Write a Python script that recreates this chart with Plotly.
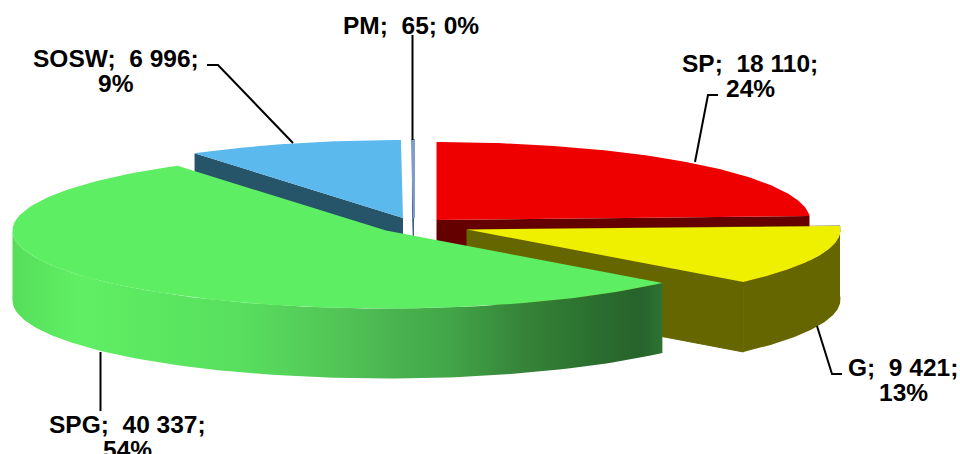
import numpy as np
import plotly.graph_objects as go

categories = ["SP", "G", "SPG", "SOSW", "PM"]
values = [18110, 9421, 40337, 6996, 65]
percents = ["24%", "13%", "54%", "9%", "0%"]

top_colors = ["#EE0000", "#EFEF00", "#5EEE63", "#5CB9EE", "#7F9CCB"]
side_colors = ["#640000", "#666600", "#256029", "#265468", "#3F5F85"]
centers = {"SP": (436.5, 220), "G": (467, 229.5), "SPG": (386, 230.5), "SOSW": (403, 218), "PM": (414, 218)}
RX, RY, DEPTH = 373.5, 78, 70

total = sum(values)
edges = np.concatenate([[0], np.cumsum(values) / total * 360])
spans = {c: (edges[i], edges[i + 1]) for i, c in enumerate(categories)}


def arc(cat, a0, a1, dy=0, n=120):
    cx, cy = centers[cat]
    t = np.radians(np.linspace(a0, a1, n))
    return cx + RX * np.sin(t), cy - RY * np.cos(t) + dy


def poly(xs, ys, color, edge=0, **kw):
    fig.add_trace(go.Scatter(x=xs, y=ys, mode="lines", fill="toself", fillcolor=color,
                             line=dict(width=edge, color=color), hoverinfo="skip",
                             showlegend=False, **kw))


def cut_face(cat, angle, color):
    cx, cy = centers[cat]
    x, y = arc(cat, angle, angle, n=1)
    poly([cx, x[0], x[0], cx, cx], [cy, y[0], y[0] + DEPTH, cy + DEPTH, cy], color)


def top(cat, color, edge=0):
    a0, a1 = spans[cat]
    cx, cy = centers[cat]
    x, y = arc(cat, a0, a1)
    poly(np.r_[cx, x, cx], np.r_[cy, y, cy], color, edge=edge)


def outer_side(cat, a0, a1, color, **kw):
    x, y = arc(cat, a0, a1)
    xb, yb = arc(cat, a1, a0, DEPTH)
    poly(np.r_[x, xb, x[0]], np.r_[y, yb, y[0]], color, **kw)


def side_with_cut(cat, color):
    # outer wall and the cut face at the slice's end, drawn as one seamless shape
    a0, a1 = spans[cat]
    cx, cy = centers[cat]
    x, y = arc(cat, a0, a1)
    xb, yb = arc(cat, a1, a0, DEPTH)
    poly(np.r_[cx, x[::-1][0], cx + 0, xb[0], xb, x[0], x],
         np.r_[cy, y[::-1][0], cy + DEPTH, yb[0], yb, y[0], y], color)


fig = go.Figure()
col = dict(zip(categories, zip(top_colors, side_colors)))

# back faces first
cut_face("SP", spans["SP"][1], col["SP"][1])
cut_face("SOSW", spans["SOSW"][0], col["SOSW"][1])
cut_face("PM", spans["PM"][0], col["PM"][1])
top("SP", col["SP"][0])
top("SOSW", col["SOSW"][0])
top("PM", col["PM"][0], edge=2)

# yellow slice: overlapping wall and cut face share an outline-free colour
g_x, g_y = arc("G", spans["G"][1], spans["G"][1], n=1)
g_cx, g_cy = centers["G"]
wall_x, wall_y = arc("G", spans["G"][0], spans["G"][1])
wall_bx, wall_by = arc("G", spans["G"][1], spans["G"][0], DEPTH)
poly(np.r_[g_cx, wall_x, wall_bx[1:][::-1][:0], g_x[0], g_x[0], wall_bx[1:], wall_x[0], g_cx],
     np.r_[g_cy, wall_y, wall_by[1:][::-1][:0], g_y[0], g_y[0] + DEPTH, wall_by[1:], wall_y[0], g_cy],
     col["G"][1])
poly([g_cx, g_x[0], g_x[0], g_cx, g_cx],
     [g_cy, g_y[0], g_y[0] + DEPTH, g_cy + DEPTH, g_cy], col["G"][1], edge=1)
top("G", col["G"][0])

# green slice with gradient side
left_x = centers["SPG"][0] - RX
end_x = arc("SPG", spans["SPG"][0], spans["SPG"][0], n=1)[0][0]
outer_side("SPG", spans["SPG"][0], 270, "#5EEE63",
           fillgradient=dict(type="horizontal", start=left_x, stop=end_x,
                             colorscale=[[0, "#56DE5B"], [0.1, "#5FEF64"], [0.35, "#58DF5E"],
                                         [0.504, "#52C456"], [0.596, "#48B24E"], [0.673, "#42A548"],
                                         [0.78, "#368539"], [0.903, "#2A6D2F"], [0.965, "#27632B"],
                                         [1, "#2D7333"]]))
top("SPG", col["SPG"][0])

# leader lines
leaders = [
    ([412.5, 412.5], [35, 140]),
    ([207, 218, 293], [65, 65, 143]),
    ([718, 708, 695], [95, 95, 162]),
    ([842, 832, 817], [374, 374, 326]),
    ([100.5, 100.5], [352, 411]),
]
for lx, ly in leaders:
    fig.add_trace(go.Scatter(x=lx, y=ly, mode="lines", line=dict(color="black", width=2),
                             hoverinfo="skip", showlegend=False))


def label_lines(cat):
    i = categories.index(cat)
    v = f"{values[i]:,}".replace(",", " ")
    if cat == "PM":
        return [f"{cat};\u00a0\u00a0{v}; {percents[i]}"]
    return [f"{cat};\u00a0\u00a0{v};", percents[i]]


label_x = {"SP": 750, "G": 903, "SPG": 127, "SOSW": 115.5, "PM": 411}
label_y = {"SP": [63, 88], "G": [367, 392], "SPG": [424, 449], "SOSW": [58, 83], "PM": [25]}
for cat in label_x:
    for txt, y in zip(label_lines(cat), label_y[cat]):
        fig.add_annotation(x=label_x[cat], y=y, text=f"<b>{txt}</b>", showarrow=False,
                           xanchor="center", yanchor="middle",
                           font=dict(family="Liberation Sans", size=24.5, color="black"))

fig.update_layout(
    width=960, height=454, margin=dict(l=0, r=0, t=0, b=0),
    paper_bgcolor="white", plot_bgcolor="white", showlegend=False,
    xaxis=dict(range=[0, 960], visible=False, fixedrange=True),
    yaxis=dict(range=[454, 0], visible=False, fixedrange=True),
)
fig.write_html("out.html", config={"displayModeBar": False},
               post_script="document.body.style.margin='0';document.body.style.overflow='hidden';")
